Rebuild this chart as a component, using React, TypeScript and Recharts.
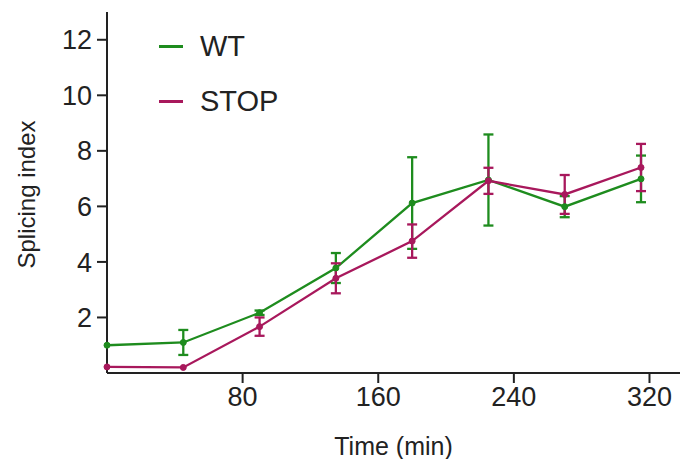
import React from 'react';
import { LineChart, Line, XAxis, YAxis, ErrorBar } from 'recharts';

const times = [0, 45, 90, 135, 180, 225, 270, 315];
const wtValues = [1.0, 1.1, 2.17, 3.78, 6.12, 6.95, 5.99, 6.99];
const wtErrors = [0, 0.45, 0.08, 0.54, 1.65, 1.64, 0.38, 0.84];
const stopValues = [0.22, 0.2, 1.67, 3.41, 4.75, 6.92, 6.43, 7.4];
const stopErrors = [0, 0, 0.33, 0.54, 0.6, 0.47, 0.7, 0.85];
const xTicks = [80, 160, 240, 320];
const yTicks = [2, 4, 6, 8, 10, 12];
const seriesNames = ['WT', 'STOP'];

const GREEN = '#1e8c1e';
const MAGENTA = '#a8185c';
const TEXT = '#222';
const FONT = '"Liberation Sans", Arial, sans-serif';

const data = times.map((t, i) => ({
  time: t,
  wt: wtValues[i],
  wtErr: wtErrors[i],
  stop: stopValues[i],
  stopErr: stopErrors[i],
}));

const LegendBox = () => (
  <div style={{ position: 'absolute', left: 159, top: 19, fontFamily: FONT }}>
    {seriesNames.map((name, i) => (
      <div key={name} style={{ display: 'flex', alignItems: 'center', height: 55 }}>
        <div style={{ width: 24, height: 3, background: i === 0 ? GREEN : MAGENTA, marginRight: 17 }} />
        <span style={{ fontSize: 29, color: TEXT, lineHeight: '55px' }}>{name}</span>
      </div>
    ))}
  </div>
);

export default function App() {
  return (
    <div style={{ position: 'absolute', left: 0, top: 0, width: 680, height: 459, background: '#fff' }}>
      <LineChart width={680} height={459} data={data} margin={{ top: 12, right: 0, bottom: 0, left: 0 }}>
        <XAxis
          dataKey="time"
          type="number"
          domain={[0, 338]}
          ticks={xTicks}
          axisLine={{ stroke: '#222', strokeWidth: 2 }}
          tickLine={{ stroke: '#222', strokeWidth: 2 }}
          tickSize={10}
          tickMargin={4}
          tick={{ fill: TEXT, fontSize: 27, fontFamily: FONT }}
          height={86}
          label={{ value: 'Time (min)', position: 'insideBottom', offset: 4, fill: TEXT, fontSize: 25, fontFamily: FONT }}
        />
        <YAxis
          type="number"
          domain={[0, 13]}
          ticks={yTicks}
          axisLine={{ stroke: '#222', strokeWidth: 2 }}
          tickLine={{ stroke: '#222', strokeWidth: 2 }}
          tickSize={10}
          tickMargin={5}
          tick={{ fill: TEXT, fontSize: 27, fontFamily: FONT }}
          width={107}
          label={{ value: 'Splicing index', angle: -90, position: 'insideLeft', offset: 26, dy: 2, fill: TEXT, fontSize: 24, fontFamily: FONT, style: { textAnchor: 'middle' } }}
        />
        <Line
          dataKey="wt"
          stroke={GREEN}
          strokeWidth={2.3}
          dot={{ r: 3, fill: GREEN, stroke: GREEN, strokeWidth: 1 }}
          isAnimationActive={false}
        >
          <ErrorBar dataKey="wtErr" direction="y" width={5} stroke={GREEN} strokeWidth={2.3} />
        </Line>
        <Line
          dataKey="stop"
          stroke={MAGENTA}
          strokeWidth={2.3}
          dot={{ r: 3, fill: MAGENTA, stroke: MAGENTA, strokeWidth: 1 }}
          isAnimationActive={false}
        >
          <ErrorBar dataKey="stopErr" direction="y" width={5} stroke={MAGENTA} strokeWidth={2.3} />
        </Line>
      </LineChart>
      <LegendBox />
    </div>
  );
}
